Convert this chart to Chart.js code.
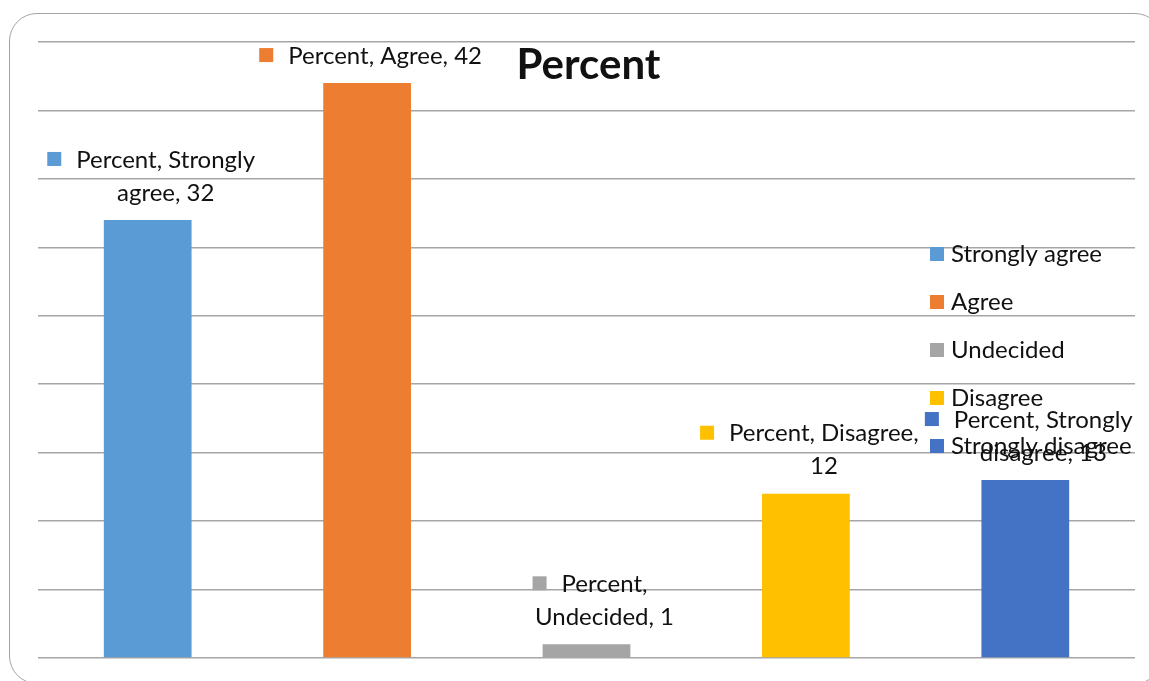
<!DOCTYPE html>
<html>
<head>
<meta charset="utf-8">
<script src="https://cdn.jsdelivr.net/npm/chart.js@4.4.1/dist/chart.umd.min.js"></script>
<style>
  html, body { margin: 0; padding: 0; background: #fff; overflow: hidden; }
  #wrap { position: relative; width: 1149px; height: 681px; overflow: hidden; }
  #frame {
    position: absolute; left: 9px; top: 13px; width: 1154px; height: 671px;
    border: 1.5px solid #a3a3a3; border-radius: 28px; box-sizing: border-box;
  }
  canvas { position: absolute; left: 0; top: 0; }
</style>
</head>
<body>
<div id="wrap">
  <div id="frame"></div>
  <canvas id="percentChart" width="1149" height="681"></canvas>
</div>
<script>
// survey responses
const categories = ['Strongly agree', 'Agree', 'Undecided', 'Disagree', 'Strongly disagree'];
const percentValues = [32, 42, 1, 12, 13];
const seriesName = 'Percent';
const barColors = ['#5B9BD5', '#ED7D31', '#A5A5A5', '#FFC000', '#4472C4'];

// data label lines for each bar (wrapped like the sheet does it)
const labelLines = [
  ['Percent, Strongly', 'agree, 32'],
  ['Percent, Agree, 42'],
  ['Percent,', 'Undecided, 1'],
  ['Percent, Disagree,', '12'],
  ['Percent, Strongly', 'disagree, 13']
];

const FONT = '24px Lato, "Liberation Sans", sans-serif';
const TEXT = '#111';

// title drawn inside the plot area
const titlePlugin = {
  id: 'titleInside',
  afterDraw(chart) {
    const ctx = chart.ctx;
    const area = chart.chartArea;
    ctx.save();
    ctx.font = 'bold 42px Lato, "Liberation Sans", sans-serif';
    ctx.fillStyle = TEXT;
    ctx.textAlign = 'center';
    ctx.textBaseline = 'middle';
    ctx.fillText(seriesName, (area.left + area.right) / 2 + 2, 65);
    ctx.restore();
  }
};

// value labels with a colour key in front of the first line
const valueLabelPlugin = {
  id: 'valueLabels',
  afterDatasetsDraw(chart) {
    const ctx = chart.ctx;
    const meta = chart.getDatasetMeta(0);
    ctx.save();
    ctx.font = FONT;
    ctx.textAlign = 'center';
    ctx.textBaseline = 'middle';
    meta.data.forEach((bar, i) => {
      const lines = labelLines[i];
      const cx = bar.x + 18;
      const lineH = 33;
      const lastY = bar.y - 27;
      const firstY = lastY - (lines.length - 1) * lineH;
      lines.forEach((ln, j) => {
        ctx.fillStyle = TEXT;
        ctx.fillText(ln, cx, firstY + j * lineH);
      });
      const w = ctx.measureText(lines[0]).width;
      ctx.fillStyle = barColors[i];
      ctx.fillRect(cx - w / 2 - 15 - 14, firstY - 8, 14, 14);
    });
    ctx.restore();
  }
};

// legend stacked on the right, over the grid
const legendPlugin = {
  id: 'rightLegend',
  afterDraw(chart) {
    const ctx = chart.ctx;
    ctx.save();
    ctx.font = FONT;
    ctx.textBaseline = 'middle';
    ctx.textAlign = 'left';
    categories.forEach((name, i) => {
      const y = 254 + i * 48;
      ctx.fillStyle = barColors[i];
      ctx.fillRect(930, y - 7, 14, 14);
      ctx.fillStyle = TEXT;
      ctx.fillText(name, 951, y);
    });
    ctx.restore();
  }
};

const ctx = document.getElementById('percentChart').getContext('2d');
const percentChart = new Chart(ctx, {
  type: 'bar',
  data: {
    labels: categories,
    datasets: [{
      label: seriesName,
      data: percentValues,
      backgroundColor: barColors,
      barPercentage: 0.4,
      categoryPercentage: 1.0
    }]
  },
  options: {
    responsive: false,
    animation: false,
    layout: { padding: { left: 38, right: 14, top: 42, bottom: 15 } },
    plugins: {
      legend: { display: false },
      title: { display: false },
      tooltip: { enabled: false }
    },
    scales: {
      x: {
        grid: { display: false },
        ticks: { display: false },
        border: { display: false }
      },
      y: {
        min: 0,
        max: 45,
        ticks: { display: false, stepSize: 5 },
        border: { display: false },
        grid: { color: '#a6a6a6', lineWidth: 1.5, drawTicks: false }
      }
    }
  },
  plugins: [titlePlugin, valueLabelPlugin, legendPlugin]
});
</script>
</body>
</html>
